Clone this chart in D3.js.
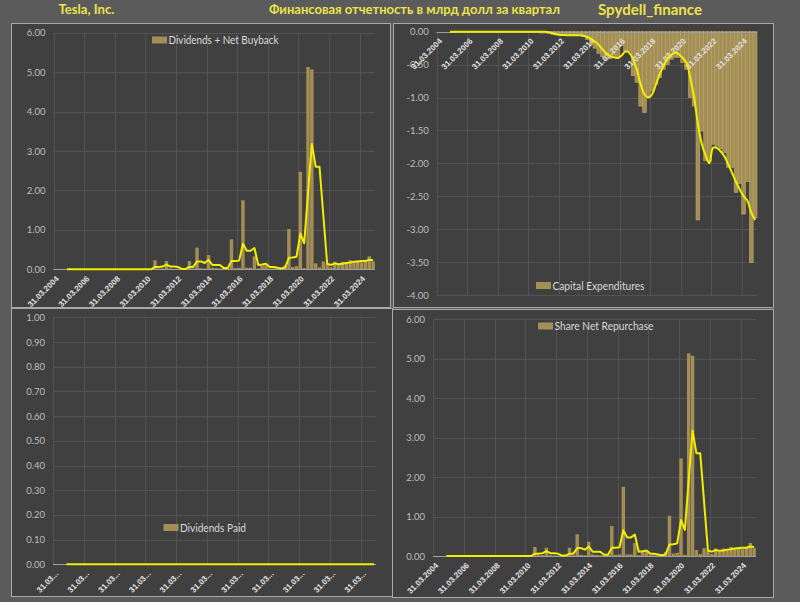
<!DOCTYPE html>
<html>
<head>
<meta charset="utf-8">
<script src="https://cdn.jsdelivr.net/npm/d3@7/dist/d3.min.js"></script>
<style>
  body { margin: 0; background: #5b5b5b; }
  svg { display: block; }
  text { font-family: "Lato", "Liberation Sans", sans-serif; }
</style>
</head>
<body>
<script>
// quarters 2004Q1 .. 2024Q4
var years = [2004, 2005, 2006, 2007, 2008, 2009, 2010, 2011, 2012, 2013, 2014,
             2015, 2016, 2017, 2018, 2019, 2020, 2021, 2022, 2023, 2024];
var quarterEnds = ["31.03", "30.06", "30.09", "31.12"];
var categories = years.flatMap(y => quarterEnds.map(q => q + "." + y));

// Dividends + Net Buyback, bln $ (same numbers as Share Net Repurchase)
var divBuyback = [
  0, 0, 0, 0, 0, 0, 0, 0, 0, 0, 0, 0, 0, 0, 0, 0, 0, 0, 0, 0,
  0, 0, 0, 0, 0, 0, 0.23, 0.02, 0.02, 0.21, 0.02, 0.01, 0.01, 0.01, 0, 0.21, 0.02, 0.55, 0.03, 0.02,
  0.36, 0.04, 0.03, 0.02, 0.02, 0.03, 0.76, 0.03, 0.04, 1.75, 0.04, 0.04, 0.33, 0.02, 0.10, 0.10, 0.02, 0.02, 0.02, 0.02,
  0.10, 1.02, 0.06, 0.08, 2.47, 0.03, 5.13, 5.07, 0.15, 0.05, 0.20, 0.14, 0.05, 0.19, 0.12, 0.19, 0.14, 0.23, 0.20, 0.22,
  0.18, 0.22, 0.33, 0.20
];
// yellow line, 4-quarter average as drawn
var divBuybackAvg = [
  null, null, null, 0, 0, 0, 0, 0, 0, 0, 0, 0, 0, 0, 0, 0, 0, 0, 0, 0,
  0, 0, 0, 0, 0, 0, 0.06, 0.06, 0.07, 0.12, 0.07, 0.07, 0.06, 0.01, 0.01, 0.06, 0.06, 0.20, 0.20, 0.16,
  0.24, 0.11, 0.11, 0.11, 0.03, 0.03, 0.21, 0.21, 0.22, 0.65, 0.47, 0.47, 0.54, 0.11, 0.12, 0.14, 0.06, 0.06, 0.04, 0.02,
  0.04, 0.29, 0.30, 0.32, 0.91, 0.66, 1.93, 3.18, 2.60, 2.60, 1.37, 0.14, 0.11, 0.15, 0.13, 0.14, 0.16, 0.17, 0.19, 0.20,
  0.21, 0.21, 0.24, 0.23
];

// Capital Expenditures, bln $
var capex = [
  0, 0, 0, 0, 0, 0, 0, 0, 0, 0, 0, 0, 0, 0, 0, 0, 0, 0, 0, 0,
  0, 0, 0, 0, 0, 0, -0.01, -0.02, -0.02, -0.03, -0.04, -0.05, -0.05, -0.06, -0.05, -0.06, -0.05, -0.06, -0.07, -0.12,
  -0.20, -0.25, -0.33, -0.38, -0.42, -0.41, -0.39, -0.40, -0.21, -0.29, -0.30, -0.67, -0.77, -1.13, -1.23, -1.00, -0.90, -0.80, -0.70, -0.57,
  -0.50, -0.42, -0.39, -0.39, -0.47, -0.57, -1.00, -1.13, -2.86, -1.51, -1.96, -1.97, -1.71, -1.74, -1.78, -1.84, -2.06, -2.06, -2.44, -2.31,
  -2.77, -2.28, -3.51, -2.83
];
var capexAvg = [
  null, null, null, 0, 0, 0, 0, 0, 0, 0, 0, 0, 0, 0, 0, 0, 0, 0, 0, 0,
  0, 0, 0, 0, 0, 0, 0, 0, 0, -0.01, -0.025, -0.04, -0.05, -0.05, -0.055, -0.055, -0.055, -0.055, -0.06, -0.08,
  -0.11, -0.15, -0.20, -0.27, -0.33, -0.37, -0.39, -0.40, -0.36, -0.30, -0.32, -0.42, -0.58, -0.80, -0.95, -1.00, -0.95, -0.80, -0.64, -0.52,
  -0.41, -0.35, -0.32, -0.34, -0.40, -0.47, -0.70, -1.00, -1.40, -1.70, -1.88, -2.00, -1.76, -1.77, -1.82, -1.90, -2.02, -2.15, -2.28, -2.40,
  -2.50, -2.57, -2.75, -2.86
];

// Dividends Paid, bln $
var dividendsPaid = [
  0, 0, 0, 0, 0, 0, 0, 0, 0, 0, 0, 0, 0, 0, 0, 0, 0, 0, 0, 0,
  0, 0, 0, 0, 0, 0, 0, 0, 0, 0, 0, 0, 0, 0, 0, 0, 0, 0, 0, 0,
  0, 0, 0, 0, 0, 0, 0, 0, 0, 0, 0, 0, 0, 0, 0, 0, 0, 0, 0, 0,
  0, 0, 0, 0, 0, 0, 0, 0, 0, 0, 0, 0, 0, 0, 0, 0, 0, 0, 0, 0,
  0, 0, 0, 0
];
var dividendsPaidAvg = [
  null, null, null, 0, 0, 0, 0, 0, 0, 0, 0, 0, 0, 0, 0, 0, 0, 0, 0, 0,
  0, 0, 0, 0, 0, 0, 0, 0, 0, 0, 0, 0, 0, 0, 0, 0, 0, 0, 0, 0,
  0, 0, 0, 0, 0, 0, 0, 0, 0, 0, 0, 0, 0, 0, 0, 0, 0, 0, 0, 0,
  0, 0, 0, 0, 0, 0, 0, 0, 0, 0, 0, 0, 0, 0, 0, 0, 0, 0, 0, 0,
  0, 0, 0, 0
];

var shareRepurchase = divBuyback;
var shareRepurchaseAvg = divBuybackAvg;

var ticks6 = [0, 1, 2, 3, 4, 5, 6];
var ticksCapex = [0, -0.5, -1, -1.5, -2, -2.5, -3, -3.5, -4];
var ticks1 = [0, 0.1, 0.2, 0.3, 0.4, 0.5, 0.6, 0.7, 0.8, 0.9, 1];

var width = 800, height = 602;
var barColor = "#a38e55";
var lineColor = "#f2ee00";

var svg = d3.select("body").append("svg")
    .attr("width", width)
    .attr("height", height);

svg.append("rect").attr("width", width).attr("height", height).attr("fill", "#5b5b5b");

// header
var head = svg.append("g").style("font-weight", "bold").attr("fill", "#ece24c");
head.append("text").attr("x", 58.5).attr("y", 14).style("font-size", "12.5px")
    .attr("textLength", 56).attr("lengthAdjust", "spacingAndGlyphs").text("Tesla, Inc.");
head.append("text").attr("x", 269).attr("y", 14).style("font-size", "12.5px")
    .attr("textLength", 291).attr("lengthAdjust", "spacingAndGlyphs")
    .text("Финансовая отчетность в млрд долл за квартал");
head.append("text").attr("x", 598).attr("y", 15).style("font-size", "15px")
    .attr("textLength", 104).attr("lengthAdjust", "spacingAndGlyphs").text("Spydell_finance");

var panels = [
  {box: [11, 23, 379, 284], l: 53.5, r: 375, t: 32.7, b: 269.3, domain: [0, 6], ticks: ticks6,
   bars: divBuyback, avg: divBuybackAvg, legend: "Dividends + Net Buyback", lx: 152, ly: 40, lw: 110,
   smooth: false, pad: 0.1, short: false},
  {box: [393, 23, 380, 284], l: 436.7, r: 757, t: 31.7, b: 295, domain: [0, -4], ticks: ticksCapex,
   bars: capex, avg: capexAvg, legend: "Capital Expenditures", lx: 536, ly: 285.5, lw: 92,
   smooth: true, pad: 0, short: false},
  {box: [11, 308, 381, 288], l: 53, r: 376, t: 317.3, b: 564.3, domain: [0, 1], ticks: ticks1,
   bars: dividendsPaid, avg: dividendsPaidAvg, legend: "Dividends Paid", lx: 163.5, ly: 527.5, lw: 66,
   smooth: false, pad: 0.1, short: true},
  {box: [392, 309, 381, 288], l: 433, r: 756, t: 319, b: 556, domain: [0, 6], ticks: ticks6,
   bars: shareRepurchase, avg: shareRepurchaseAvg, legend: "Share Net Repurchase", lx: 538, ly: 326, lw: 99,
   smooth: false, pad: 0.1, short: false}
];

panels.forEach(function(p) {
  var g = svg.append("g");

  g.append("rect")
    .attr("x", p.box[0] + 0.5).attr("y", p.box[1] + 0.5)
    .attr("width", p.box[2]).attr("height", p.box[3])
    .attr("fill", "#404040")
    .attr("stroke", "#a9a9a9").attr("stroke-width", 1);

  var x = d3.scaleBand().domain(categories).range([p.l, p.r]).padding(0);
  var bw = x.bandwidth();

  // capex goes downward: 0 on top
  var y = p.domain[1] < 0
    ? d3.scaleLinear().domain(p.domain).range([p.t, p.b])
    : d3.scaleLinear().domain(p.domain).range([p.b, p.t]);

  // horizontal grid
  g.append("g").selectAll("line").data(p.ticks).enter().append("line")
    .attr("x1", p.l).attr("x2", p.r)
    .attr("y1", d => Math.round(y(d)) + 0.5).attr("y2", d => Math.round(y(d)) + 0.5)
    .attr("stroke", "#535353").attr("stroke-width", 1);

  // vertical grid every 8 quarters
  var gridCats = categories.filter((d, i) => i % 8 === 0);
  var yTop = Math.min(y(p.ticks[0]), y(p.ticks[p.ticks.length - 1]));
  var yBot = Math.max(y(p.ticks[0]), y(p.ticks[p.ticks.length - 1]));
  g.append("g").selectAll("line").data(gridCats).enter().append("line")
    .attr("x1", d => Math.round(x(d)) + 0.5).attr("x2", d => Math.round(x(d)) + 0.5)
    .attr("y1", yTop).attr("y2", yBot)
    .attr("stroke", "#535353").attr("stroke-width", 1);

  // bars
  g.append("g").selectAll("rect").data(p.bars).enter().append("rect")
    .attr("x", (d, i) => x(categories[i]) + bw * p.pad / 2)
    .attr("width", bw * (1 - p.pad))
    .attr("y", d => Math.min(y(0), y(d)))
    .attr("height", d => Math.abs(y(d) - y(0)))
    .attr("fill", barColor)
    .attr("stroke", p.smooth ? "#c4b06f" : "none")
    .attr("stroke-width", 0.5);

  // zero axis line
  g.append("line")
    .attr("x1", p.l).attr("x2", p.r)
    .attr("y1", Math.round(y(0)) + 0.5).attr("y2", Math.round(y(0)) + 0.5)
    .attr("stroke", "#a0a0a0").attr("stroke-width", 1);

  // y axis labels
  var yAxis = d3.axisLeft(y).tickValues(p.ticks).tickSize(0).tickPadding(8)
    .tickFormat(d => d.toFixed(2));
  var ya = g.append("g").attr("transform", "translate(" + p.l + ",0)").call(yAxis);
  ya.select(".domain").remove();
  ya.selectAll("text").attr("fill", "#bdbdbd")
    .style("font-size", "9.5px").style("font-family", "Lato, sans-serif");

  // x axis labels, rotated
  var xAxis = d3.axisBottom(x).tickValues(gridCats).tickSize(0)
    .tickFormat(d => p.short ? d.slice(0, 5) + "..." : d);
  var xa = g.append("g").attr("transform", "translate(0," + y(0) + ")").call(xAxis);
  xa.select(".domain").remove();
  xa.selectAll("text")
    .attr("fill", "#e0e0e0")
    .style("font-size", "8px").style("font-weight", "bold")
    .style("font-family", "'Liberation Sans', sans-serif")
    .attr("text-anchor", "end")
    .attr("dy", "0.35em").attr("y", 0)
    .attr("transform", "translate(2,8) rotate(-45)");

  // yellow line
  var line = d3.line()
    .defined(d => d !== null)
    .x((d, i) => x(categories[i]) + bw / 2)
    .y(d => y(d))
    .curve(p.smooth ? d3.curveCatmullRom.alpha(0.5) : d3.curveLinear);
  g.append("path").datum(p.avg)
    .attr("d", line)
    .attr("fill", "none")
    .attr("stroke", lineColor).attr("stroke-width", 2)
    .attr("stroke-linejoin", "round");

  // legend
  g.append("rect").attr("x", p.lx).attr("y", p.ly - 3.5).attr("width", 15).attr("height", 7)
    .attr("fill", barColor);
  g.append("text").attr("x", p.lx + 16.5).attr("y", p.ly).attr("dy", "0.35em")
    .attr("fill", "#d9d9d9").style("font-size", "11.5px")
    .attr("textLength", p.lw).attr("lengthAdjust", "spacingAndGlyphs")
    .text(p.legend);
});
</script>
</body>
</html>
